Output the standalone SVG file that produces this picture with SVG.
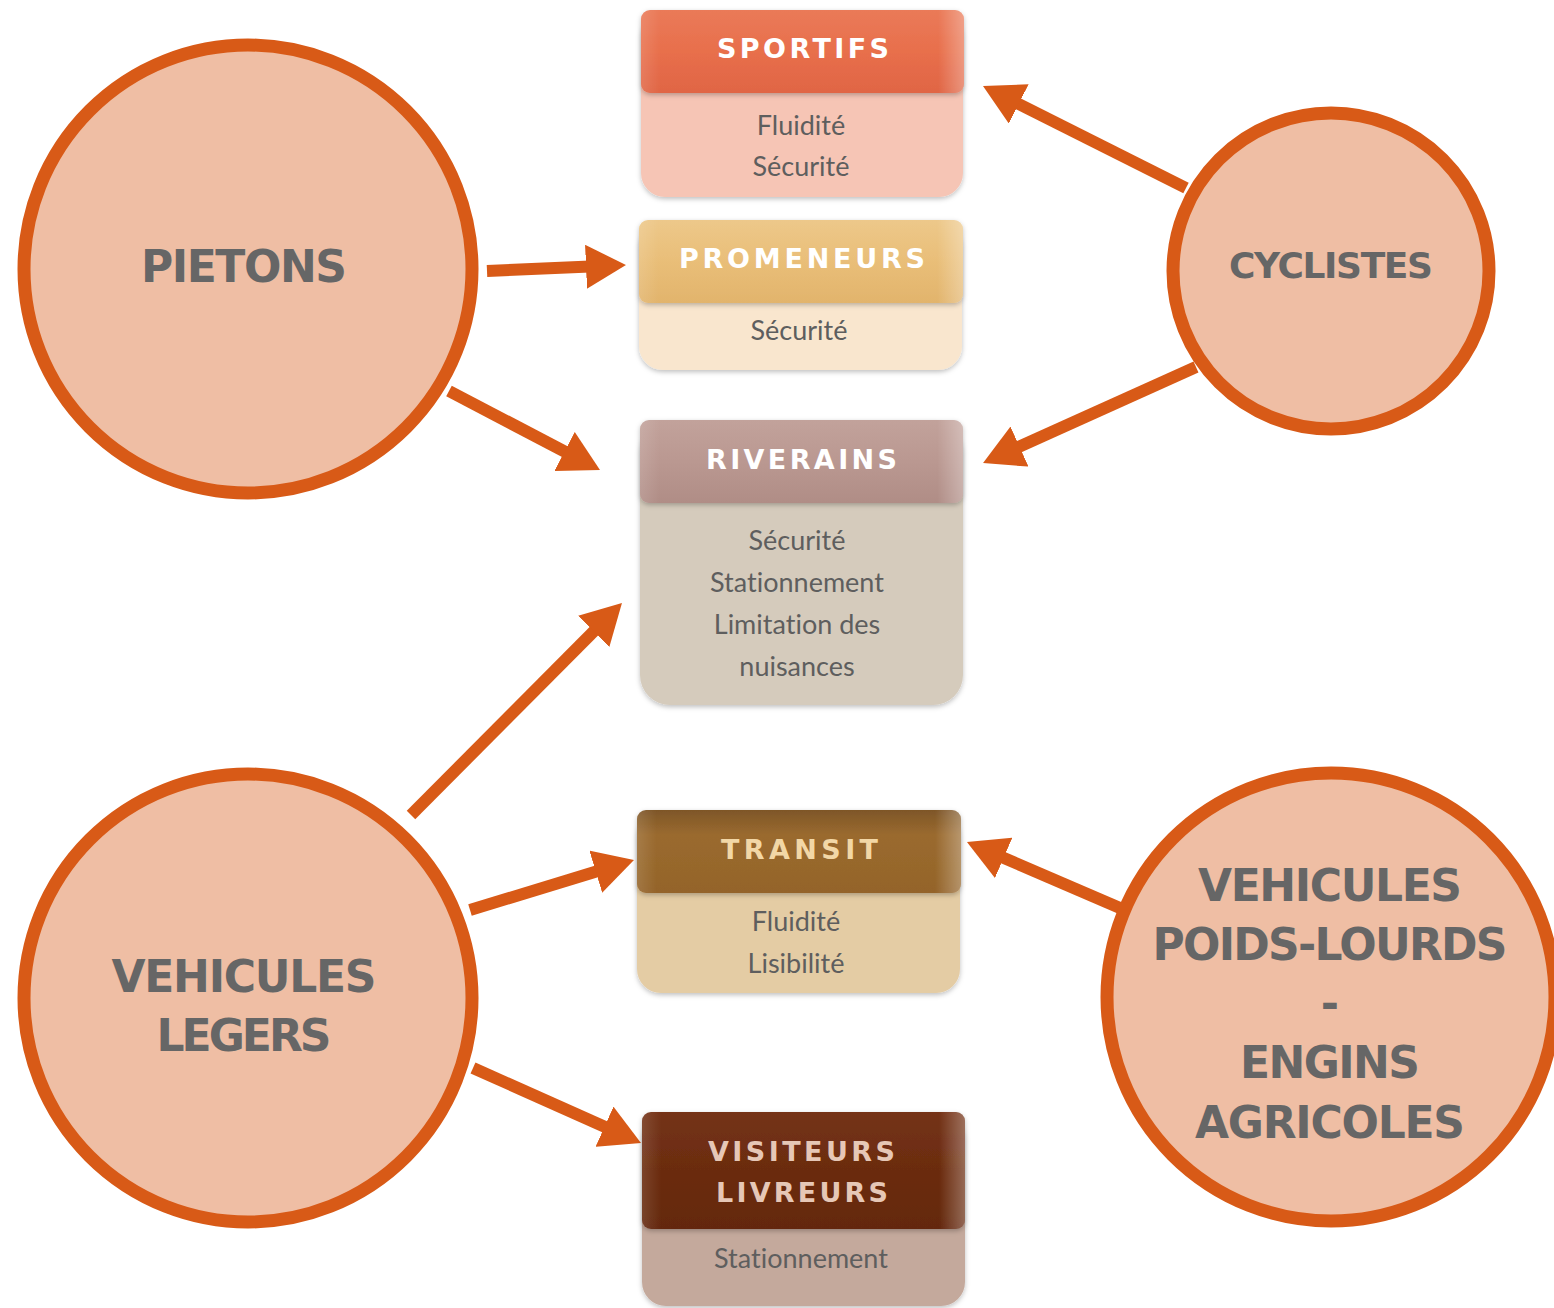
<svg xmlns="http://www.w3.org/2000/svg" width="1554" height="1308" viewBox="0 0 1554 1308">
<defs>
<style>
.circ{fill:#EFBEA4;stroke:#D85A17;stroke-width:13}
.ctxt{font-family:"DejaVu Sans","Open Sans",sans-serif;font-weight:bold;fill:#666666;text-anchor:middle}
.htxt{font-family:"DejaVu Sans","Open Sans",sans-serif;font-weight:bold;font-size:27px;text-anchor:middle;fill:#FFFFFF}
.btxt{font-family:Lato,"Open Sans","DejaVu Sans",sans-serif;font-size:27px;text-anchor:middle;fill:#5E5E5E;font-variant-ligatures:none}
.arrow{stroke:#D85A17;stroke-width:12;fill:none;marker-end:url(#ah)}
.bevel{fill:url(#bev)}
</style>
<marker id="ah" markerUnits="userSpaceOnUse" viewBox="0 0 40 44" markerWidth="40" markerHeight="44" refX="10" refY="22" orient="auto">
<path d="M0,0 L40,22 L0,44 z" fill="#D85A17"/>
</marker>
<filter id="sh" x="-10%" y="-10%" width="120%" height="130%">
<feDropShadow dx="0" dy="2" stdDeviation="2.5" flood-color="#000" flood-opacity="0.25"/>
</filter>
<linearGradient id="bev" x1="0" y1="0" x2="1" y2="0">
<stop offset="0" stop-color="#fff" stop-opacity="0.12"/>
<stop offset="0.06" stop-color="#fff" stop-opacity="0"/>
<stop offset="0.92" stop-color="#fff" stop-opacity="0"/>
<stop offset="1" stop-color="#fff" stop-opacity="0.3"/>
</linearGradient>
<linearGradient id="gS" x1="0" y1="0" x2="0" y2="1">
<stop offset="0" stop-color="#EA7A58"/><stop offset="0.5" stop-color="#E86F4C"/><stop offset="1" stop-color="#E06544"/>
</linearGradient>
<linearGradient id="gP" x1="0" y1="0" x2="0" y2="1">
<stop offset="0" stop-color="#EDC88A"/><stop offset="0.5" stop-color="#E9BE78"/><stop offset="1" stop-color="#E2B46C"/>
</linearGradient>
<linearGradient id="gR" x1="0" y1="0" x2="0" y2="1">
<stop offset="0" stop-color="#C2A29B"/><stop offset="0.5" stop-color="#BA9891"/><stop offset="1" stop-color="#B08D86"/>
</linearGradient>
<linearGradient id="gT" x1="0" y1="0" x2="0" y2="1">
<stop offset="0" stop-color="#7E5628"/><stop offset="0.3" stop-color="#9A6A2F"/><stop offset="1" stop-color="#946429"/>
</linearGradient>
<linearGradient id="gV" x1="0" y1="0" x2="0" y2="1">
<stop offset="0" stop-color="#743215"/><stop offset="0.5" stop-color="#6B2C10"/><stop offset="1" stop-color="#642810"/>
</linearGradient>
</defs>

<g id="connectors">
<line class="arrow" x1="487" y1="271" x2="596" y2="266.3"/>
<line class="arrow" x1="449" y1="391" x2="573.4" y2="456.1"/>
<line class="arrow" x1="1186" y1="188" x2="1009.8" y2="99.5"/>
<line class="arrow" x1="1196" y1="367" x2="1010.4" y2="450.7"/>
<line class="arrow" x1="411" y1="815" x2="600.8" y2="624.3"/>
<line class="arrow" x1="470" y1="910" x2="605.3" y2="868.7"/>
<line class="arrow" x1="473" y1="1068" x2="613.6" y2="1130.8"/>
<line class="arrow" x1="1120" y1="908" x2="994.5" y2="853.9"/>
</g>

<g id="pietons">
<circle class="circ" cx="248" cy="269" r="224"/>
<text class="ctxt" x="244" y="282" font-size="44" textLength="206">PIETONS</text>
</g>

<g id="cyclistes">
<circle class="circ" cx="1331" cy="271" r="158"/>
<text class="ctxt" x="1331" y="278" font-size="36" textLength="204">CYCLISTES</text>
</g>

<g id="vehicules-legers">
<circle class="circ" cx="248" cy="998" r="224"/>
<text class="ctxt" x="244" y="992" font-size="44" textLength="265">VEHICULES</text>
<text class="ctxt" x="244" y="1051" font-size="44" textLength="175">LEGERS</text>
</g>

<g id="vehicules-poids-lourds">
<circle class="circ" cx="1331" cy="997" r="224"/>
<text class="ctxt" x="1330" y="901" font-size="44" textLength="264">VEHICULES</text>
<text class="ctxt" x="1330" y="960" font-size="44" textLength="355">POIDS-LOURDS</text>
<text class="ctxt" x="1330" y="1019" font-size="44">-</text>
<text class="ctxt" x="1330" y="1078" font-size="44" textLength="180">ENGINS</text>
<text class="ctxt" x="1330" y="1138" font-size="44" textLength="270">AGRICOLES</text>
</g>

<g id="sportifs">
<rect x="641" y="12" width="322" height="185" rx="24" fill="#F6C5B5" filter="url(#sh)"/>
<rect x="641" y="10" width="323" height="83" rx="9" fill="url(#gS)" filter="url(#sh)"/>
<rect x="641" y="10" width="323" height="83" rx="9" class="bevel"/>
<text class="htxt" x="803" y="58" textLength="172">SPORTIFS</text>
<text class="btxt" x="801" y="135">Fluidité</text>
<text class="btxt" x="801" y="176">Sécurité</text>
</g>

<g id="promeneurs">
<rect x="639" y="222" width="323" height="148" rx="24" fill="#F9E6CE" filter="url(#sh)"/>
<rect x="639" y="220" width="324" height="83" rx="9" fill="url(#gP)" filter="url(#sh)"/>
<rect x="639" y="220" width="324" height="83" rx="9" class="bevel"/>
<text class="htxt" x="802" y="268" textLength="246">PROMENEURS</text>
<text class="btxt" x="799" y="340">Sécurité</text>
</g>

<g id="riverains">
<rect x="640" y="422" width="323" height="283" rx="30" fill="#D5CBBC" filter="url(#sh)"/>
<rect x="640" y="420" width="323" height="83" rx="9" fill="url(#gR)" filter="url(#sh)"/>
<rect x="640" y="420" width="323" height="83" rx="9" class="bevel"/>
<text class="htxt" x="801.5" y="469" textLength="191">RIVERAINS</text>
<text class="btxt" x="797" y="550">Sécurité</text>
<text class="btxt" x="797" y="592">Stationnement</text>
<text class="btxt" x="797" y="634">Limitation des</text>
<text class="btxt" x="797" y="676">nuisances</text>
</g>

<g id="transit">
<rect x="637" y="812" width="323" height="181" rx="24" fill="#E4CCA4" filter="url(#sh)"/>
<rect x="637" y="810" width="324" height="83" rx="9" fill="url(#gT)" filter="url(#sh)"/>
<rect x="637" y="810" width="324" height="83" rx="9" class="bevel"/>
<text class="htxt" x="799.5" y="859" textLength="157" style="fill:#F2D7A6">TRANSIT</text>
<text class="btxt" x="796" y="931">Fluidité</text>
<text class="btxt" x="796" y="973">Lisibilité</text>
</g>

<g id="visiteurs-livreurs">
<rect x="642" y="1114" width="323" height="192" rx="24" fill="#C4A99C" filter="url(#sh)"/>
<rect x="642" y="1112" width="323" height="117" rx="9" fill="url(#gV)" filter="url(#sh)"/>
<rect x="642" y="1112" width="323" height="117" rx="9" class="bevel"/>
<text class="htxt" x="801.5" y="1161" textLength="187" style="fill:#E6C7B6">VISITEURS</text>
<text class="htxt" x="802" y="1202" textLength="172" style="fill:#E6C7B6">LIVREURS</text>
<text class="btxt" x="801" y="1268">Stationnement</text>
</g>
</svg>
